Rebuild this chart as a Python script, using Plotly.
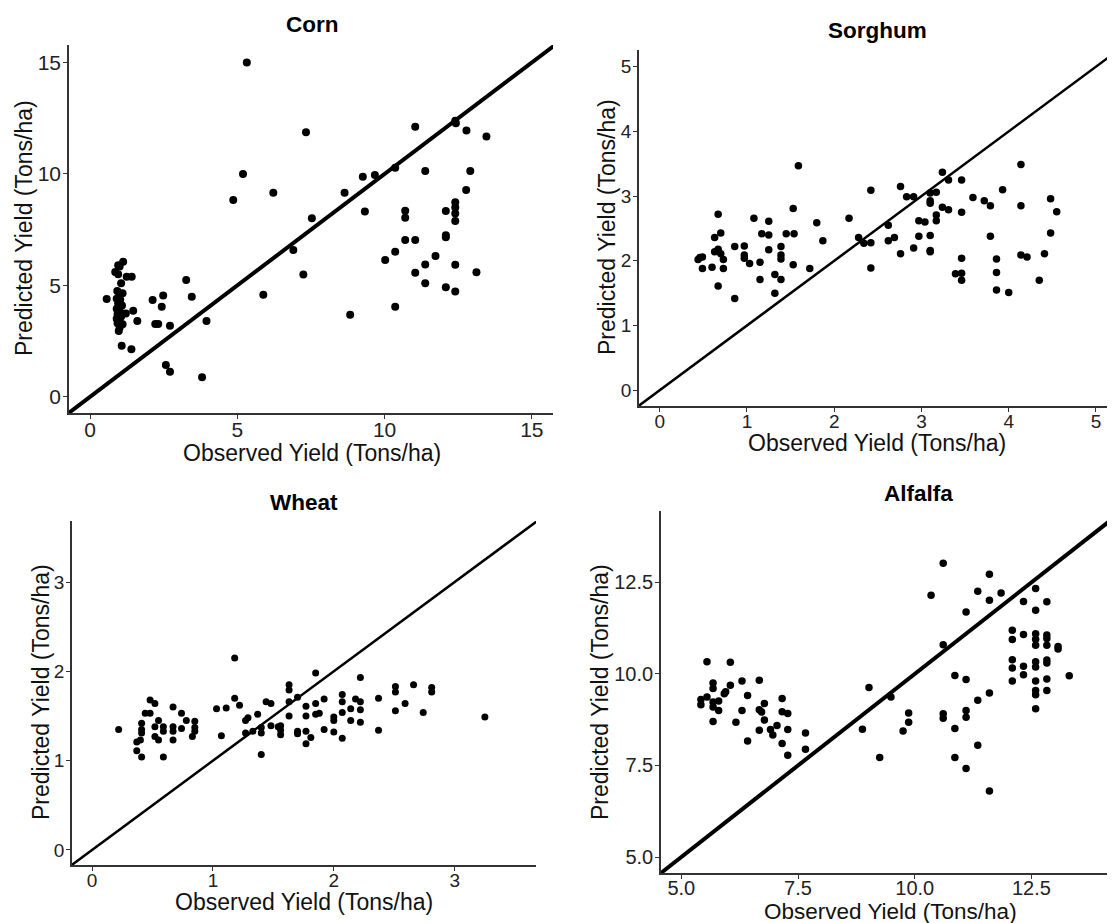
import plotly.graph_objects as go

# ---------------- data ----------------
corn_obs = [0.95, 1.00, 1.12, 0.85, 0.95, 1.05, 0.92, 1.00, 1.10, 0.90,
            1.02, 0.95, 1.08, 0.90, 1.00, 0.93, 1.05, 0.90, 1.00, 0.93,
            1.10, 1.00, 0.97, 1.07, 0.56, 1.24, 1.41, 1.46, 1.60, 1.40,
            1.21, 2.12, 2.48, 2.43, 2.21, 2.31, 2.71, 3.26, 3.45, 3.95,
            2.57, 2.71, 3.80, 5.32, 5.19, 4.86, 6.22, 5.88, 7.33, 6.90,
            7.53, 7.24, 8.64, 9.26, 9.67, 9.33, 8.83, 10.36, 11.04, 11.38,
            12.40, 12.42, 12.78, 13.46, 12.91, 12.77, 12.40, 12.40, 12.40, 12.40,
            12.08, 10.70, 10.70, 10.70, 11.04, 12.08, 12.08, 10.02, 10.36, 11.73,
            11.38, 11.04, 11.38, 12.08, 12.40, 12.40, 13.12, 10.36]
corn_pred = [5.90, 5.85, 6.06, 5.60, 5.50, 5.10, 4.75, 4.60, 4.65, 4.40,
             4.35, 4.20, 4.10, 3.95, 3.85, 3.70, 3.60, 3.50, 3.40, 3.30,
             3.25, 3.10, 2.95, 2.29, 4.39, 5.39, 5.39, 3.86, 3.40, 2.13,
             3.74, 4.34, 4.55, 4.04, 3.26, 3.26, 3.19, 5.24, 4.49, 3.40,
             1.42, 1.12, 0.87, 15.00, 10.00, 8.83, 9.16, 4.58, 11.87, 6.59,
             8.01, 5.49, 9.16, 9.88, 9.95, 8.31, 3.68, 10.28, 12.12, 10.13,
             12.39, 12.28, 11.95, 11.68, 10.13, 9.28, 8.73, 8.50, 8.23, 7.89,
             8.34, 8.35, 8.04, 7.04, 7.04, 7.25, 7.16, 6.14, 6.51, 6.32,
             5.94, 5.57, 5.09, 4.91, 4.72, 5.93, 5.59, 4.04]

sorghum_obs = [1.59, 0.46, 0.49, 0.44, 0.49, 0.60, 0.63, 0.67, 0.70, 0.63,
               0.67, 0.70, 0.73, 0.73, 0.67, 0.86, 0.86, 0.97, 0.97, 0.97,
               1.03, 1.08, 1.15, 1.15, 1.17, 1.25, 1.25, 1.25, 1.32, 1.32,
               1.39, 1.39, 1.39, 1.39, 1.45, 1.53, 1.54, 1.53, 1.72, 1.80,
               1.87, 2.17, 2.28, 2.34, 2.42, 2.42, 2.42, 2.62, 2.62, 2.69,
               2.76, 2.76, 2.83, 2.91, 2.91, 2.97, 3.04, 2.97, 3.10, 3.10,
               3.10, 3.10, 3.10, 3.10, 3.17, 3.17, 3.17, 3.24, 3.24, 3.31,
               3.31, 3.46, 3.46, 3.46, 3.39, 3.46, 3.46, 3.59, 3.72, 3.79,
               3.79, 3.86, 3.86, 3.86, 4.00, 3.93, 4.14, 4.14, 4.14, 4.21,
               4.35, 4.41, 4.48, 4.48, 4.55]
sorghum_pred = [3.47, 2.05, 2.06, 2.02, 1.88, 1.90, 2.36, 2.72, 2.43, 2.14,
                2.18, 2.11, 2.02, 1.88, 1.61, 2.22, 1.42, 2.23, 2.09, 2.04,
                1.96, 2.66, 1.98, 1.71, 2.42, 2.61, 2.40, 2.17, 1.79, 1.50,
                2.22, 2.09, 2.03, 1.71, 2.42, 2.81, 2.42, 1.94, 1.88, 2.59,
                2.31, 2.66, 2.36, 2.27, 3.09, 2.28, 1.89, 2.55, 2.31, 2.36,
                3.15, 2.11, 2.99, 2.99, 2.20, 2.62, 2.60, 2.38, 3.05, 2.93,
                2.89, 2.39, 2.16, 2.14, 3.06, 2.71, 2.62, 3.37, 2.83, 3.25,
                2.79, 3.25, 2.75, 2.04, 1.80, 1.81, 1.70, 2.98, 2.93, 2.85,
                2.38, 2.03, 1.82, 1.55, 1.51, 3.10, 3.49, 2.85, 2.09, 2.06,
                1.70, 2.11, 2.96, 2.43, 2.76]

wheat_obs = [0.22, 0.37, 0.40, 0.37, 0.41, 0.41, 0.41, 0.41, 0.44, 0.48,
             0.48, 0.52, 0.52, 0.52, 0.55, 0.55, 0.59, 0.59, 0.59, 0.67,
             0.67, 0.67, 0.67, 0.74, 0.74, 0.78, 0.85, 0.85, 0.85, 0.83,
             1.03, 1.07, 1.11, 1.18, 1.18, 1.22, 1.27, 1.29, 1.27, 1.33,
             1.37, 1.40, 1.40, 1.40, 1.44, 1.48, 1.48, 1.54, 1.56, 1.56,
             1.56, 1.63, 1.63, 1.63, 1.63, 1.70, 1.70, 1.70, 1.77, 1.77,
             1.77, 1.77, 1.81, 1.85, 1.85, 1.85, 1.88, 1.92, 1.92, 2.00,
             2.00, 2.00, 2.07, 2.07, 2.07, 2.07, 2.14, 2.14, 2.18, 2.22,
             2.22, 2.22, 2.22, 2.37, 2.37, 2.51, 2.51, 2.51, 2.59, 2.66,
             2.74, 2.81, 2.81, 3.25]
wheat_pred = [1.35, 1.21, 1.23, 1.11, 1.04, 1.42, 1.35, 1.31, 1.53, 1.53,
              1.68, 1.64, 1.38, 1.27, 1.23, 1.45, 1.38, 1.33, 1.04, 1.60,
              1.38, 1.33, 1.23, 1.53, 1.36, 1.45, 1.44, 1.37, 1.33, 1.27,
              1.58, 1.28, 1.59, 2.15, 1.70, 1.62, 1.45, 1.48, 1.31, 1.33,
              1.52, 1.37, 1.31, 1.07, 1.66, 1.64, 1.39, 1.38, 1.39, 1.34,
              1.29, 1.85, 1.79, 1.66, 1.50, 1.71, 1.33, 1.30, 1.61, 1.50,
              1.33, 1.19, 1.26, 1.98, 1.64, 1.52, 1.53, 1.69, 1.35, 1.49,
              1.45, 1.32, 1.74, 1.66, 1.54, 1.25, 1.58, 1.45, 1.69, 1.66,
              1.93, 1.57, 1.43, 1.70, 1.34, 1.83, 1.77, 1.56, 1.64, 1.85,
              1.54, 1.82, 1.77, 1.49]

alfalfa_obs = [5.55, 6.05, 5.42, 5.42, 5.55, 5.68, 5.68, 5.68, 5.68, 5.68,
               5.80, 5.80, 5.92, 5.95, 6.05, 6.17, 6.30, 6.30, 6.42, 6.42,
               6.67, 6.67, 6.72, 6.67, 6.78, 6.78, 6.91, 6.96, 7.05, 7.16,
               7.16, 7.16, 7.28, 7.28, 7.28, 7.66, 7.66, 9.02, 9.49, 8.88,
               9.25, 9.75, 9.87, 9.87, 10.35, 10.61, 10.61, 10.61, 10.61, 10.86,
               10.86, 10.86, 11.10, 11.10, 11.10, 11.10, 11.10, 11.35, 11.35, 11.35,
               11.60, 11.60, 11.60, 11.60, 11.85, 12.09, 12.09, 12.09, 12.09, 12.09,
               12.33, 12.33, 12.33, 12.33, 12.59, 12.59, 12.59, 12.59, 12.59, 12.59,
               12.59, 12.59, 12.59, 12.59, 12.59, 12.83, 12.83, 12.83, 12.83, 12.83,
               12.83, 12.83, 12.83, 13.07, 13.07, 13.31]
alfalfa_pred = [10.33, 10.32, 9.30, 9.16, 9.37, 9.75, 9.60, 9.23, 9.10, 8.70,
                9.26, 9.00, 9.46, 9.51, 9.69, 8.68, 9.81, 9.00, 9.41, 8.17,
                9.83, 9.02, 8.96, 8.46, 9.19, 8.74, 8.48, 8.33, 8.59, 9.33,
                8.97, 8.10, 8.92, 8.48, 7.78, 8.39, 7.94, 9.63, 9.37, 8.49,
                7.72, 8.44, 8.93, 8.68, 12.15, 13.02, 10.80, 8.91, 8.79, 9.96,
                8.51, 7.72, 11.69, 9.85, 9.00, 8.82, 7.42, 12.26, 9.28, 8.05,
                12.72, 12.01, 9.48, 6.80, 12.21, 11.19, 10.94, 10.39, 10.16, 9.81,
                11.98, 11.08, 10.21, 9.98, 12.33, 11.74, 11.10, 10.95, 10.78, 10.33,
                10.19, 9.81, 9.55, 9.43, 9.05, 11.97, 11.06, 10.97, 10.78, 10.38,
                10.30, 9.86, 9.55, 10.75, 10.68, 9.95]

corn_ticks = [0, 5, 10, 15]
sorghum_ticks = [0, 1, 2, 3, 4, 5]
wheat_ticks = [0, 1, 2, 3]
alfalfa_ticks = [5.0, 7.5, 10.0, 12.5]

# ---------------- layout helpers ----------------
# the page body has an 8px default margin; reference pixel coords are shifted by it
OFF = 8
W, H = 1115 - OFF, 923 - OFF
FONT = "Liberation Sans, Arial, Helvetica, sans-serif"

def px(x):
    return (x - OFF) / W

def py(y):
    return 1 - (y - OFF) / H

panels = [
    dict(name="Corn", obs=corn_obs, pred=corn_pred, ticks=corn_ticks,
         xr=[-0.72, 15.72], yr=[-0.73, 15.79], xd=(69, 553), yd=(45, 413),
         ms=8, lw=4, tf=21, tpos=(312, 25), xtpos=(312, 453), ytpos=(24, 228), fmt="",
         xso=-7, xts=23),
    dict(name="Sorghum", obs=sorghum_obs, pred=sorghum_pred, ticks=sorghum_ticks,
         xr=[-0.237, 5.218], yr=[-0.243, 5.258], xd=(639, 1115), yd=(50, 406),
         ms=7.5, lw=2.5, tf=19, tpos=(878, 31), xtpos=(877, 443), ytpos=(607, 227), fmt="",
         xso=-7, xts=23),
    dict(name="Wheat", obs=wheat_obs, pred=wheat_pred, ticks=wheat_ticks,
         xr=[-0.166, 3.673], yr=[-0.168, 3.683], xd=(72, 536), yd=(521, 865),
         ms=7, lw=2.5, tf=19, tpos=(304, 502), xtpos=(304, 902), ytpos=(41, 692), fmt="",
         xso=-7, xts=23),
    dict(name="Alfalfa", obs=alfalfa_obs, pred=alfalfa_pred, ticks=alfalfa_ticks,
         xr=[4.565, 14.29], yr=[4.563, 14.45], xd=(661, 1115), yd=(511, 873),
         ms=7.5, lw=4, tf=20, tpos=(918, 493), xtpos=(890, 911), ytpos=(600, 692), fmt=".1f",
         xso=-8, xts=22.5),
]

fig = go.Figure()
annotations = []
layout_axes = {}

for i, p in enumerate(panels, start=1):
    xa = "x" if i == 1 else f"x{i}"
    ya = "y" if i == 1 else f"y{i}"
    lo = min(p["xr"][0], p["yr"][0])
    hi = max(p["xr"][1], p["yr"][1])
    fig.add_trace(go.Scatter(x=[lo, hi], y=[lo, hi], mode="lines",
                             line=dict(color="black", width=p["lw"]),
                             xaxis=xa, yaxis=ya, showlegend=False, hoverinfo="skip"))
    fig.add_trace(go.Scatter(x=p["obs"], y=p["pred"], mode="markers",
                             marker=dict(color="black", size=p["ms"]),
                             xaxis=xa, yaxis=ya, showlegend=False))
    common = dict(showgrid=False, zeroline=False, showline=True, linecolor="#333333",
                  linewidth=1.6, ticks="outside", ticklen=4, tickwidth=1.2,
                  tickcolor="#333333", tickvals=p["ticks"], tickformat=p["fmt"],
                  tickfont=dict(family=FONT, size=p["tf"], color="#222222"),
                  mirror=False, fixedrange=True)
    layout_axes["xaxis" if i == 1 else f"xaxis{i}"] = dict(
        common, domain=[px(p["xd"][0]), min(1.0, px(p["xd"][1]))], range=p["xr"],
        anchor=ya, ticklabelstandoff=p["xso"])
    layout_axes["yaxis" if i == 1 else f"yaxis{i}"] = dict(
        common, domain=[py(p["yd"][1]), py(p["yd"][0])], range=p["yr"],
        anchor=xa, ticklabelstandoff=-2)
    annotations.append(dict(text=f"<b>{p['name']}</b>", x=px(p["tpos"][0]), y=py(p["tpos"][1]),
                            xref="paper", yref="paper", showarrow=False,
                            xanchor="center", yanchor="middle",
                            font=dict(family=FONT, size=22.5, color="black")))
    annotations.append(dict(text="Observed Yield (Tons/ha)", x=px(p["xtpos"][0]), y=py(p["xtpos"][1]),
                            xref="paper", yref="paper", showarrow=False,
                            xanchor="center", yanchor="middle",
                            font=dict(family=FONT, size=p["xts"], color="#111111")))
    annotations.append(dict(text="Predicted Yield (Tons/ha)", x=px(p["ytpos"][0]), y=py(p["ytpos"][1]),
                            xref="paper", yref="paper", showarrow=False, textangle=-90,
                            xanchor="center", yanchor="middle",
                            font=dict(family=FONT, size=23, color="#111111")))

fig.update_layout(width=W, height=H, margin=dict(l=0, r=0, t=0, b=0),
                  plot_bgcolor="white", paper_bgcolor="white",
                  annotations=annotations, showlegend=False, **layout_axes)

fig.write_html("out.html")
